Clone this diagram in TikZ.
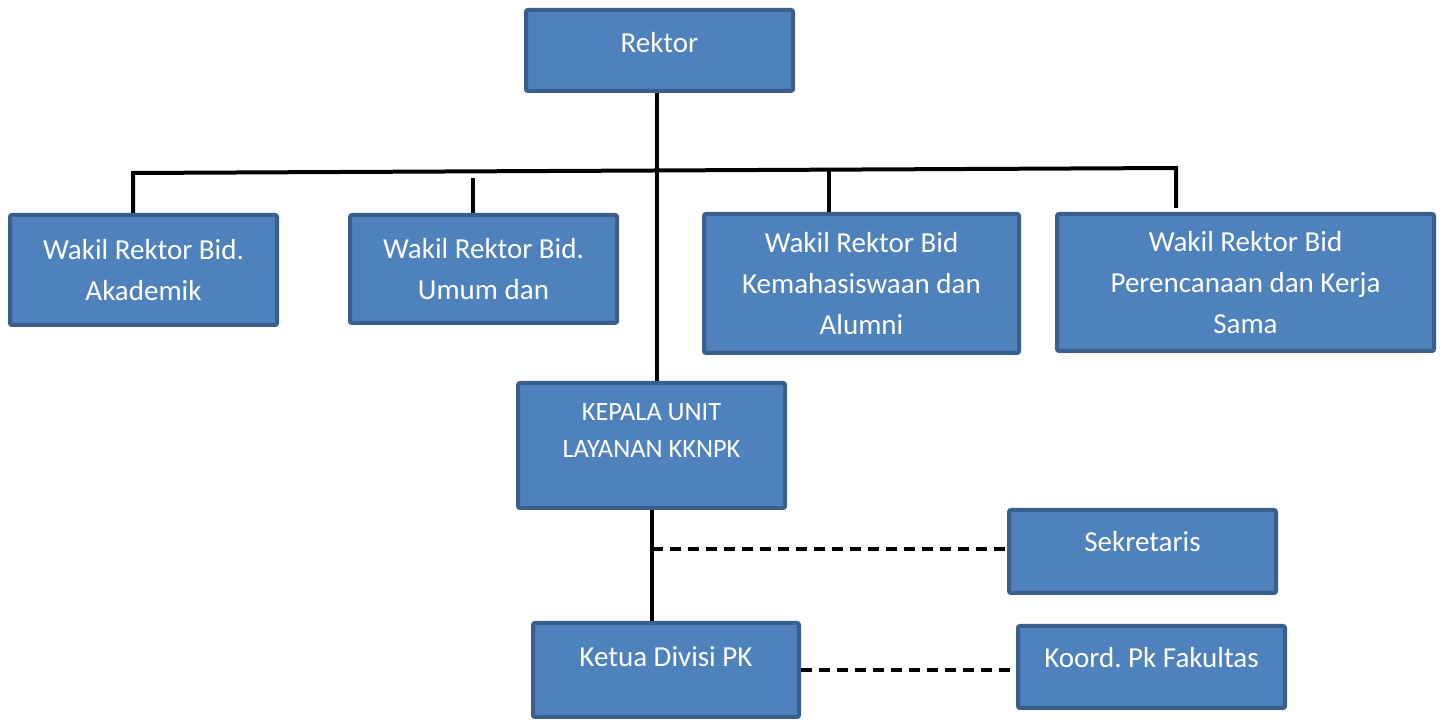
\documentclass[tikz,border=0pt]{standalone}
\usepackage{fontspec}
\setmainfont{Carlito}
\usetikzlibrary{positioning}

\definecolor{boxfill}{HTML}{4F81BD}
\definecolor{boxline}{HTML}{3A5F8C}

\begin{document}
\begin{tikzpicture}[x=0.5pt,y=-0.5pt,
    every node/.style={shape=rectangle,draw=boxline,fill=boxfill,line width=2pt,rounded corners=1pt,
        text=white,align=center,font=\fontsize{14.5}{20.5}\selectfont,inner sep=0pt},
    link/.style={line width=2pt,black},
    dashlink/.style={line width=2pt,black,dash pattern=on 5.5pt off 3.5pt}]
    \useasboundingbox (0,0) rectangle (1442,721);
	% create the nodes
    \node (rektor) [minimum width=133.5pt, minimum height=40.5pt, text depth=8pt] at (659.5,50.5) {Rektor};
    \node (wrak) [minimum width=133.5pt, minimum height=55pt] at (143.5,270) {Wakil Rektor Bid.\\Akademik};
    \node (wrum) [minimum width=133.5pt, minimum height=54pt] at (483.5,269) {Wakil Rektor Bid.\\Umum dan};
    \node (wrkm) [minimum width=157.5pt, minimum height=69.5pt] at (861.5,283.5) {Wakil Rektor Bid\\Kemahasiswaan dan\\Alumni};
    \node (wrpk) [minimum width=188.5pt, minimum height=68.5pt] at (1245.5,282.5) {Wakil Rektor Bid\\Perencanaan dan Kerja\\Sama};
    \node (kepala) [minimum width=133.5pt, minimum height=62.5pt, text depth=15pt,
        font=\fontsize{13.2}{18.5}\selectfont] at (651.5,445.5) {KEPALA UNIT\\LAYANAN KKNPK};
    \node (sekr) [minimum width=133.5pt, minimum height=41.5pt, text depth=10pt] at (1142.5,551.5) {Sekretaris};
    \node (ketua) [minimum width=133pt, minimum height=47pt, text depth=13pt] at (666,670) {Ketua Divisi PK};
    \node (koord) [minimum width=133.5pt, minimum height=41pt, text depth=10pt] at (1151.5,667) {Koord.\ Pk Fakultas};

    % bar points
    \coordinate (b1) at (133,173);
    \coordinate (b2) at (473,178);
    \coordinate (b3) at (829,170);
    \coordinate (b4) at (1176,168);
    \coordinate (b5) at (1176,208);
    \coordinate (k1) at (652,549);

	% connect the nodes
    \draw[link] (rektor.south -| 657,0) -- (kepala.north -| 657,0);
    \draw[link] (b1 |- wrak.north) -- (b1) -- (b4) -- (b5);
    \draw[link] (b2) -- (b2 |- wrum.north);
    \draw[link] (b3) -- (b3 |- wrkm.north);
    \draw[link] (kepala.south) -- (kepala.south |- ketua.north);
    \draw[dashlink] (k1) -- (k1 -| sekr.west);
    \draw[dashlink] (ketua.east) -- (ketua.east -| koord.west);

\end{tikzpicture}
\end{document}
